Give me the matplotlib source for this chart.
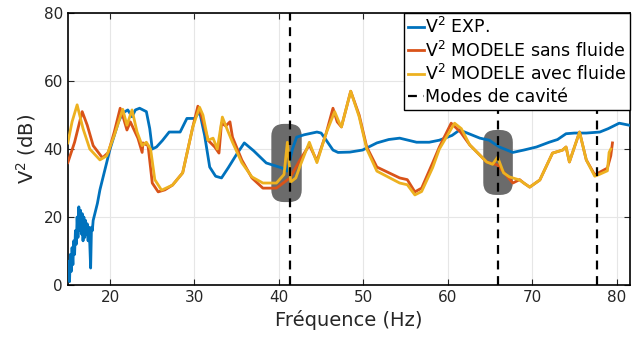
import matplotlib
matplotlib.use("Agg")
import matplotlib.pyplot as plt
from matplotlib.patches import FancyBboxPatch

# ---- data ----
exp_f = [15.0, 15.1, 15.2, 15.3, 15.4, 15.5, 15.6, 15.7, 15.8, 15.9, 16.0, 16.1, 16.2, 16.3, 16.4,
         16.5, 16.6, 16.7, 16.8, 16.9, 17.0, 17.1, 17.2, 17.3, 17.4, 17.5, 17.6, 17.7, 17.8, 17.9,
         18.0, 18.2, 18.5, 18.8, 19.2, 19.6, 20.0, 20.5, 21.0, 21.5, 22.1, 22.6, 23.0, 23.5, 24.3,
         24.7, 25.0, 25.5, 26.2, 27.0, 28.3, 29.1, 30.0, 30.6, 31.2, 31.8, 32.5, 33.2, 34.0, 35.0,
         35.9, 37.0, 38.5, 40.4, 41.0, 41.6, 42.1, 43.0, 44.5, 45.0, 45.6, 46.4, 47.0, 48.4, 49.9,
         51.6, 53.0, 54.3, 56.3, 57.8, 59.0, 60.5, 61.4, 62.5, 63.8, 64.9, 66.1, 67.7, 69.0, 70.5,
         72.0, 73.0, 74.0, 75.0, 76.4, 78.0, 79.0, 80.3, 81.5]
exp_v = [3.0, 7.0, 1.0, 9.0, 4.0, 11.0, 6.0, 13.0, 9.0, 16.0, 12.0, 20.0, 14.0, 23.0, 16.0,
         22.0, 15.0, 21.0, 13.0, 20.0, 14.0, 19.0, 15.0, 18.0, 13.0, 17.0, 12.0, 5.0, 17.0, 16.0,
         19.0, 21.0, 24.0, 28.0, 32.0, 36.0, 40.0, 44.0, 48.0, 50.6, 51.5, 49.5, 51.5, 52.0, 51.0,
         46.0, 40.0, 40.6, 42.5, 45.0, 45.0, 49.0, 49.0, 51.0, 44.0, 34.7, 32.0, 31.5, 34.5, 38.5,
         41.8, 39.5, 35.9, 34.4, 33.5, 40.0, 43.5, 44.2, 45.0, 44.7, 42.6, 39.7, 39.0, 39.1, 39.7,
         41.8, 42.8, 43.2, 42.0, 42.0, 42.6, 44.0, 45.6, 44.5, 43.2, 42.6, 40.6, 39.0, 39.7, 40.6,
         42.0, 42.8, 44.5, 44.7, 44.7, 45.0, 46.0, 47.6, 47.0]

sans_f = [15.0, 15.8, 16.7, 17.3, 18.0, 19.1, 19.8, 20.5, 21.2, 21.6, 22.0, 22.4, 23.3, 23.8,
          23.9, 24.5, 25.0, 25.7, 26.5, 27.4, 28.6, 29.8, 30.4, 30.8, 31.6, 32.4, 32.9, 33.2,
          33.7, 34.2, 34.5, 35.6, 36.8, 38.1, 39.7, 41.3, 42.5, 43.6, 44.5, 45.6, 46.4, 46.9,
          47.4, 48.5, 49.5, 50.4, 51.6, 54.3, 55.2, 56.1, 56.9, 58.2, 59.0, 60.4, 61.5, 62.6,
          64.6, 65.9, 67.7, 68.5, 69.0, 69.7, 70.9, 72.4, 73.6, 74.0, 74.4, 75.6, 76.4, 77.4,
          78.0, 78.9, 79.3, 79.5]
sans_v = [36.0, 42.0, 51.0, 47.0, 41.0, 37.4, 39.0, 45.0, 52.0, 49.0, 45.6, 48.0, 43.2, 39.0,
          41.8, 41.0, 30.0, 27.4, 28.0, 29.4, 33.0, 46.5, 52.6, 50.0, 42.6, 40.6, 38.8, 47.6,
          46.8, 48.0, 43.5, 36.8, 31.5, 28.5, 28.5, 31.5, 36.8, 41.2, 36.5, 44.7, 52.0, 48.0,
          46.5, 57.0, 50.0, 40.6, 34.7, 31.5, 31.0, 27.4, 28.5, 35.9, 40.6, 47.6, 45.0, 41.2,
          36.2, 35.3, 30.0, 31.0, 30.0, 28.8, 30.9, 38.8, 39.7, 40.6, 36.2, 45.0, 36.8, 32.4,
          33.2, 34.4, 38.0, 41.8]

avec_f = [15.0, 15.5, 16.1, 16.8, 17.6, 18.8, 19.6, 20.5, 21.5, 22.0, 22.6, 23.2, 23.8, 24.3,
          24.8, 25.3, 26.1, 27.4, 28.6, 29.8, 30.6, 31.0, 31.6, 32.2, 32.7, 33.3, 33.9, 34.5,
          35.6, 36.8, 38.1, 39.7, 40.6, 41.0, 41.4, 42.0, 42.5, 43.6, 44.5, 45.6, 46.6, 47.1,
          47.4, 48.5, 49.5, 50.4, 51.6, 54.3, 55.2, 56.1, 56.9, 58.2, 59.0, 60.8, 61.6, 62.6,
          64.6, 65.3, 65.9, 66.6, 67.3, 68.5, 69.0, 69.7, 70.9, 72.4, 73.6, 74.0, 74.4, 75.6,
          76.4, 77.4, 78.0, 78.9, 79.1, 79.3]
avec_v = [41.8, 48.0, 53.0, 46.0, 40.0, 36.8, 38.0, 44.0, 51.7, 47.0, 51.5, 45.0, 41.0, 42.0,
          40.0, 31.0, 27.9, 29.4, 33.0, 46.5, 52.3, 50.0, 42.6, 43.2, 40.0, 49.4, 45.6, 42.0,
          36.0, 31.8, 30.0, 30.0, 32.5, 42.0, 30.3, 31.5, 35.0, 42.0, 36.0, 44.7, 51.0, 48.0,
          46.5, 57.0, 49.5, 40.0, 33.5, 30.0, 29.5, 26.5, 27.5, 34.5, 40.0, 47.6, 46.0, 41.2,
          36.2, 35.5, 37.6, 33.0, 31.8, 30.9, 30.0, 28.8, 30.9, 38.8, 39.7, 40.6, 36.2, 45.0,
          36.8, 32.0, 32.6, 33.6, 39.0, 40.0]

cavity_modes = [41.3, 66.0, 77.7]
highlight_f = [(39.1, 42.7), (64.2, 67.7)]
highlight_v = [(24.4, 47.4), (26.5, 45.6)]

labels = ["V$^2$ EXP.", "V$^2$ MODELE sans fluide", "V$^2$ MODELE avec fluide", "Modes de cavité"]
xticks = [20, 30, 40, 50, 60, 70, 80]
yticks = [0, 20, 40, 60, 80]

# ---- plot ----
plt.rcParams['font.family'] = ['DejaVu Sans']
fig = plt.figure(figsize=(6.34, 3.43), dpi=100)
ax = fig.add_axes([0.107, 0.169, 0.887, 0.793])

for (f0, f1), (v0, v1) in zip(highlight_f, highlight_v):
    box = FancyBboxPatch((f0, v0), f1 - f0, v1 - v0,
                         boxstyle="round,pad=0,rounding_size=1.5",
                         mutation_aspect=2.4, facecolor='#6b6b6b',
                         edgecolor='none', zorder=1)
    ax.add_patch(box)

ax.plot(exp_f, exp_v, color='#0072BD', lw=2.0, label=labels[0], zorder=3)
ax.plot(sans_f, sans_v, color='#D95319', lw=2.0, label=labels[1], zorder=3)
ax.plot(avec_f, avec_v, color='#EDB120', lw=2.0, label=labels[2], zorder=3)
for i, m in enumerate(cavity_modes):
    ax.axvline(m, color='black', lw=1.6, ls=(0, (4, 3)), zorder=4,
               label=labels[3] if i == 0 else None)

ax.set_xlim(15, 81.6)
ax.set_ylim(0, 80)
ax.set_xticks(xticks)
ax.set_yticks(yticks)
ax.grid(True, color='#e6e6e6', lw=0.8)
ax.set_axisbelow(True)
ax.tick_params(direction='in', top=True, right=True, labelsize=11, length=4,
               colors='#262626')
for s in ax.spines.values():
    s.set_linewidth(1.2)
ax.set_xlabel("Fréquence (Hz)", fontsize=14, color='#262626')
ax.set_ylabel("V$^2$ (dB)", fontsize=14, color='#262626')

leg = ax.legend(loc='upper right', fontsize=12.5, handlelength=0.9,
                handletextpad=0.1, borderpad=0.2, labelspacing=0.22,
                fancybox=False, framealpha=1, edgecolor='black',
                borderaxespad=0.0)
leg.get_frame().set_linewidth(1.0)

fig.savefig("out.png", dpi=100)
